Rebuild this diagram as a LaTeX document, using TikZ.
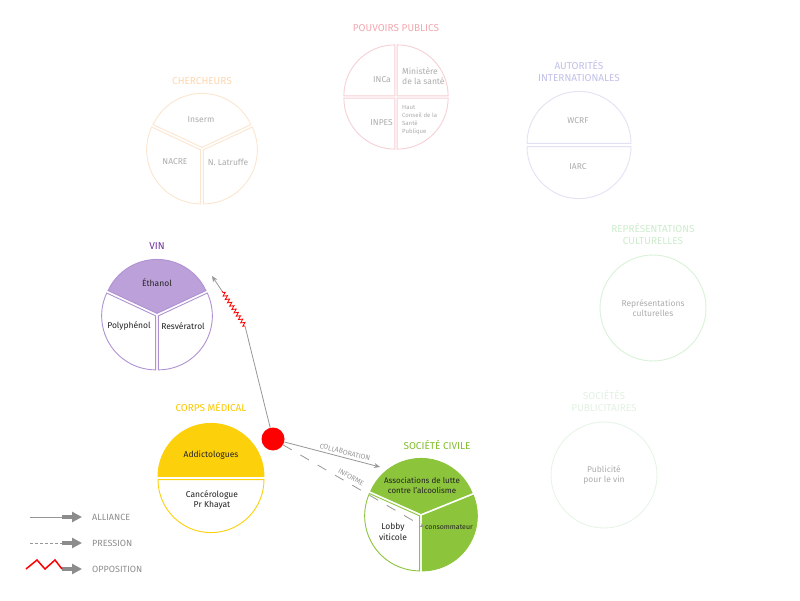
\documentclass[tikz,border=0pt]{standalone}
\usepackage{fontspec}
\setmainfont{Fira Sans}
\usetikzlibrary{
    arrows.meta,
    positioning,
    calc,
    decorations.pathmorphing
}
\definecolor{Cpouv}{RGB}{246, 208, 212}
\definecolor{CpouvT}{RGB}{241, 168, 175}
\definecolor{Ccherch}{RGB}{251, 230, 208}
\definecolor{CcherchT}{RGB}{252, 214, 176}
\definecolor{Cautor}{RGB}{226, 226, 246}
\definecolor{CautorT}{RGB}{192, 192, 232}
\definecolor{Crepr}{RGB}{216, 241, 216}
\definecolor{CreprT}{RGB}{204, 235, 204}
\definecolor{Cpub}{RGB}{230, 244, 230}
\definecolor{CpubT}{RGB}{226, 241, 226}
\definecolor{Cvin}{RGB}{188, 160, 218}
\definecolor{CvinB}{RGB}{176, 146, 210}
\definecolor{CvinT}{RGB}{112, 48, 160}
\definecolor{Cmed}{RGB}{252, 208, 10}
\definecolor{CmedT}{RGB}{250, 200, 0}
\definecolor{Cciv}{RGB}{140, 196, 60}
\definecolor{CcivT}{RGB}{130, 190, 45}
\definecolor{Cgris}{RGB}{172, 172, 172}
\definecolor{Cnoir}{RGB}{35, 35, 35}
\definecolor{Clien}{RGB}{150, 150, 150}
\definecolor{Cfleche}{RGB}{140, 140, 140}
\tikzset{
    zone/.style={circle, minimum size=#1, inner sep=0pt},
    piece/.style={draw=#1, line width=0.9pt, fill=white},
    titre/.style={
        font=\fontsize{10}{11.5}\selectfont, text=#1,
        align=center, inner sep=1pt
    },
    texte/.style={
        font=\fontsize{8.5}{10.5}\selectfont, text=#1,
        align=center, inner sep=1pt
    },
    petit/.style={
        font=\fontsize{6}{8}\selectfont, text=#1,
        align=left, inner sep=1pt
    },
    lien/.style={draw=Clien, line width=0.8pt},
    pointe/.style={-{Stealth[length=6pt, width=5pt]}},
    etiq/.style={font=\fontsize{7}{8}\selectfont, text=Clien, inner sep=0.5pt},
    fleche/.style={draw=Cfleche, line width=4pt, -{Triangle[length=10pt, width=10pt]}},
    legende/.style={font=\fontsize{9}{11}\selectfont, text=Cfleche, inner sep=1pt},
}
% part d'un camembert : style, centre, angle de debut, angle de fin, rayon
\newcommand{\secteur}[5]{%
    \draw[#1] ($(#2.center)+({(#3+#4)/2}:1.6pt)$) -- +(#3:#5)
        arc[start angle=#3, end angle=#4, radius=#5] -- cycle;
}

\begin{document}
\begin{tikzpicture}[x=1pt, y=1pt]
    \useasboundingbox (0,0) rectangle (800,600);

    % pouvoirs publics
    \node [zone=102pt] (pouvoirs) at (396,503) {};
    \node [titre=CpouvT, above=13pt of pouvoirs] (t-pouvoirs) {POUVOIRS PUBLICS};
    \secteur{piece=Cpouv}{pouvoirs}{0}{90}{51pt}
    \secteur{piece=Cpouv}{pouvoirs}{90}{180}{51pt}
    \secteur{piece=Cpouv}{pouvoirs}{180}{270}{51pt}
    \secteur{piece=Cpouv}{pouvoirs}{270}{360}{51pt}
    \node [texte=Cgris, anchor=east] (inca) at (392,520) {INCa};
    \node [texte=Cgris, anchor=west, align=left] (ministere) at (401,524) {Ministère\\de la santé};
    \node [texte=Cgris, anchor=east] (inpes) at (394,477) {INPES};
    \node [petit=Cgris, anchor=west] (hcsp) at (401,480) {Haut\\Conseil de la\\Santé\\Publique};

    % chercheurs
    \node [zone=108pt] (chercheurs) at (202,451) {};
    \node [titre=CcherchT, above=9pt of chercheurs] (t-chercheurs) {CHERCHEURS};
    \secteur{piece=Ccherch}{chercheurs}{25}{155}{54pt}
    \secteur{piece=Ccherch}{chercheurs}{155}{270}{54pt}
    \secteur{piece=Ccherch}{chercheurs}{270}{385}{54pt}
    \node [texte=Cgris] (inserm) at (201,480) {Inserm};
    \node [texte=Cgris] (nacre) at (175,438) {NACRE};
    \node [texte=Cgris] (latruffe) at (228,438) {N.~Latruffe};

    % autorites internationales
    \node [zone=104pt] (autorites) at (579,455) {};
    \node [titre=CautorT, above=10pt of autorites] (t-autorites) {AUTORITÉS\\INTERNATIONALES};
    \secteur{piece=Cautor}{autorites}{0}{180}{52pt}
    \secteur{piece=Cautor}{autorites}{180}{360}{52pt}
    \node [texte=Cgris] (wcrf) at (578,479) {WCRF};
    \node [texte=Cgris] (iarc) at (578,433) {IARC};

    % representations culturelles
    \node [zone=106pt, draw=Crepr, line width=0.9pt, texte=Cgris] (representations)
        at (653,292) {Représentations\\culturelles};
    \node [titre=CreprT, above=9pt of representations] (t-representations) {REPRÉSENTATIONS\\CULTURELLES};

    % societes publicitaires
    \node [zone=106pt, draw=Cpub, line width=0.9pt, texte=Cgris] (publicite)
        at (604,125) {Publicité\\pour le vin};
    \node [titre=CpubT, above=9pt of publicite] (t-publicite) {SOCIÉTÉS\\PUBLICITAIRES};

    % vin
    \node [zone=108pt] (vin) at (157,285) {};
    \node [titre=CvinT, above=10pt of vin] (t-vin) {VIN};
    \secteur{piece=CvinB, fill=Cvin}{vin}{25}{155}{54pt}
    \secteur{piece=CvinB}{vin}{155}{270}{54pt}
    \secteur{piece=CvinB}{vin}{270}{385}{54pt}
    \node [texte=Cnoir] (ethanol) at (157,317) {Éthanol};
    \node [texte=Cnoir] (polyphenol) at (129,274) {Polyphénol};
    \node [texte=Cnoir] (resveratrol) at (183,274) {Resvératrol};

    % corps medical
    \node [zone=106pt] (medical) at (211,122) {};
    \node [titre=CmedT, above=12pt of medical] (t-medical) {CORPS MÉDICAL};
    \secteur{piece=Cmed, fill=Cmed}{medical}{0}{180}{53pt}
    \secteur{piece=Cmed}{medical}{180}{360}{53pt}
    \node [texte=Cnoir] (addicto) at (211,145) {Addictologues};
    \node [texte=Cnoir] (khayat) at (212,100) {Cancérologue\\Pr Khayat};

    % societe civile
    \node [zone=110pt] (civile) at (421,85) {};
    \node [titre=CcivT, above=9pt of civile, xshift=16pt] (t-civile) {SOCIÉTÉ CIVILE};
    \secteur{piece=Cciv, fill=Cciv}{civile}{22}{156}{55pt}
    \secteur{piece=Cciv, fill=Cciv}{civile}{-90}{22}{55pt}
    \secteur{piece=Cciv}{civile}{156}{270}{55pt}
    \node [texte=Cnoir, font=\fontsize{8}{10}\selectfont] (associations) at (422,115) {Associations de lutte\\contre l’alcoolisme};
    \node [texte=Cnoir] (lobby) at (393,68) {Lobby\\viticole};
    \node [texte=Cnoir, font=\fontsize{7}{8}\selectfont, anchor=west] (conso) at (424,73) {consommateur};

    % point rouge et liens
    \node [circle, fill=red, minimum size=23pt, inner sep=0pt] (pt) at (273,161) {};
    \coordinate (collab) at (380,133);
    \coordinate (coude1) at (245,274);
    \coordinate (coude2) at (222,309);
    \coordinate (cible) at (212,324);

    \draw [lien, pointe] (pt) -- node[etiq, sloped, above=2pt, pos=0.62]{COLLABORATION} (collab);
    \draw [lien, dash pattern=on 10pt off 10pt, -{Stealth[length=4pt, width=4pt]}] (pt)
        -- node[etiq, sloped, above=3pt, pos=0.46]{INFORME} (conso.west);
    \draw [lien] (pt) -- (coude1);
    \draw [red, line width=0.8pt, decorate, decoration={zigzag, segment length=4pt, amplitude=2pt}] (coude1) -- (coude2);
    \draw [lien, pointe] (coude2) -- (cible);

    % legende
    \foreach \y/\nom/\lib in {83/alliance/ALLIANCE, 57/pression/PRESSION, 31/opposition/OPPOSITION} {
        \coordinate (\nom-a) at (30,\y);
        \coordinate (\nom-b) at (62,\y);
        \coordinate (\nom-c) at (82,\y);
        \node [legende, right=9pt of \nom-c] (\nom) {\lib};
        \draw [fleche] (\nom-b) -- (\nom-c);
    }
    \draw [lien, line width=1pt] (alliance-a) -- (alliance-b);
    \draw [lien, line width=1pt, dash pattern=on 3pt off 2pt] (pression-a) -- (pression-b);
    \draw [red, line width=1.5pt] (opposition-a) ++(-4,0) -- ++(11,9) -- ++(8,-9) -- ++(10,9) -- (opposition-b);

\end{tikzpicture}
\end{document}
